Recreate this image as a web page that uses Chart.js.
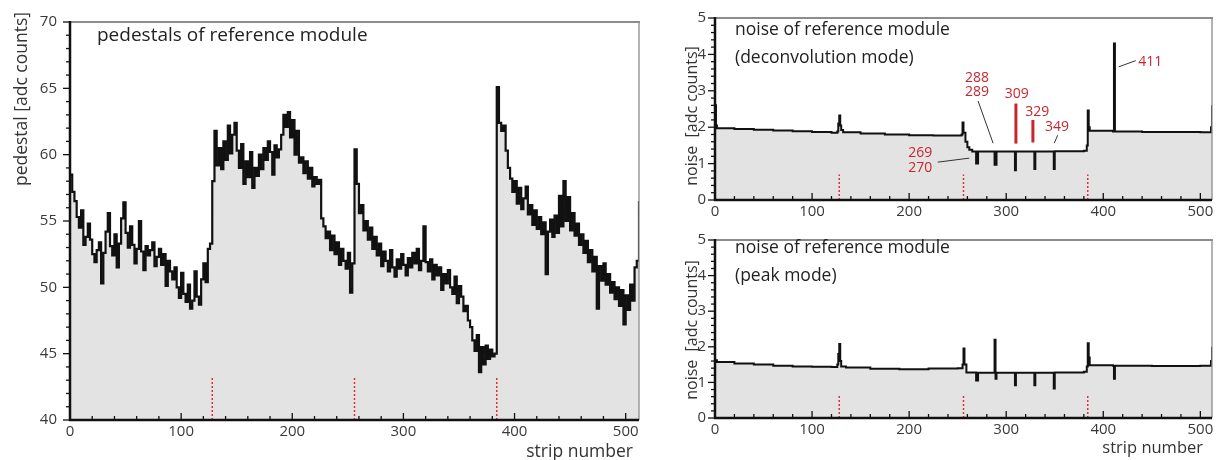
<!DOCTYPE html>
<html>
<head>
<meta charset="utf-8">
<script src="https://cdn.jsdelivr.net/npm/chart.js@4.4.1/dist/chart.umd.min.js"></script>
<style>
body{margin:0;background:#fff;width:1218px;height:460px;overflow:hidden;position:relative}
canvas{position:absolute}
</style>
</head>
<body>
<canvas id="pedChart" width="650" height="460" style="left:0;top:0"></canvas>
<canvas id="decoChart" width="538" height="222" style="left:680px;top:0"></canvas>
<canvas id="peakChart" width="538" height="238" style="left:680px;top:222px"></canvas>
<script>
// ==============================
// pedestals + noise of reference module
// ==============================

// pedestal per strip pair (strip 0,2,4 ... 510) + right edge at 512
const pedValues = [
58.5,57.2,56.5,55.3,54.5,55.8,
53.2,53.8,54.8,53.6,52.5,51.9,52.8,53.4,50.3,52.6,
54.2,55.6,53.1,52.4,54.0,51.5,53.3,55.2,56.4,54.1,
53.0,54.6,53.2,51.8,52.9,55.0,52.7,51.3,53.1,52.4,
52.8,53.4,51.6,52.3,52.9,51.7,52.5,50.1,52.0,51.2,
50.6,51.5,50.0,49.2,51.1,49.5,48.9,50.2,48.4,49.0,
51.2,49.3,48.7,50.6,51.8,50.4,52.9,53.3,
58.0,61.8,59.2,60.5,58.9,61.0,59.6,62.2,60.1,61.5,
62.4,60.3,59.0,60.8,57.8,59.5,58.3,60.2,57.5,59.0,
58.4,60.0,58.9,60.5,59.6,61.0,60.2,58.5,60.7,59.8,
60.4,61.5,63.0,62.1,63.2,61.3,62.6,60.0,61.8,59.4,
59.8,58.6,59.5,58.2,59.0,57.6,58.3,57.8,58.1,55.2,
54.6,53.7,54.2,52.8,53.9,52.5,53.4,51.7,52.9,52.0,
51.4,52.6,49.6,51.8,
60.4,57.8,55.6,56.2,54.3,55.0,53.6,54.5,52.9,53.8,
52.4,53.3,51.6,52.7,52.0,51.2,52.8,51.5,50.8,52.1,
51.4,52.5,51.7,50.9,52.2,51.5,52.6,51.8,52.9,51.3,
52.0,54.6,51.9,51.2,52.1,50.6,51.7,50.9,51.5,49.8,
51.0,50.3,51.3,50.0,49.5,50.8,48.8,50.1,49.3,48.2,
48.6,47.5,47.0,46.0,45.2,46.4,43.6,45.5,44.2,45.6,
44.6,45.3,44.8,45.0,
65.1,62.4,61.8,62.2,60.3,59.0,58.2,57.2,58.0,56.3,
57.5,55.9,56.7,57.6,55.5,56.2,54.7,55.8,54.4,55.3,
54.0,54.9,51.0,54.2,55.1,53.8,55.4,54.1,56.9,54.6,
58.0,55.0,56.8,54.3,55.6,53.9,54.8,53.2,54.0,52.6,
53.5,51.9,52.8,51.2,52.3,48.4,51.6,50.5,51.8,50.2,
51.0,49.6,50.4,49.1,50.0,48.6,49.8,47.2,49.4,48.3,
50.2,49.0,51.5,52.0,
56.5
]
const pedStrips = pedValues.map((v,i)=>i*2)

// noise, deconvolution mode
const decoStrips = [0,1,2,20,40,60,80,100,120,126,127,128,129,130,132,150,175,200,225,250,254,255,256,258,260,262,265,269,271,288,290,309,310,329,330,349,350,380,383,384,385,386,410,411,412,440,470,500,511,512]
const decoNoise  = [2.6,2.05,1.97,1.95,1.93,1.91,1.89,1.87,1.85,1.88,2.1,2.32,2.05,1.92,1.86,1.83,1.80,1.78,1.77,1.77,1.8,2.13,1.85,1.6,1.45,1.38,1.33,1.0,1.33,0.97,1.33,0.82,1.33,0.85,1.33,0.85,1.34,1.35,1.5,2.46,2.0,1.9,1.88,4.3,1.88,1.87,1.87,1.86,2.0,2.6]

// noise, peak mode
const peakStrips = [0,2,20,40,60,80,100,120,126,127,128,129,130,135,160,190,220,250,255,256,257,259,269,271,288,289,290,309,310,329,330,349,350,380,383,384,385,386,410,411,412,450,500,511,512]
const peakNoise  = [1.62,1.57,1.53,1.5,1.47,1.45,1.44,1.43,1.5,1.8,2.08,1.6,1.45,1.42,1.38,1.37,1.39,1.40,1.5,1.95,1.5,1.28,1.05,1.27,2.2,1.1,1.27,0.92,1.27,0.92,1.27,0.83,1.28,1.3,1.45,2.1,1.7,1.48,1.47,1.1,1.47,1.46,1.47,1.6,2.0]

// axis ticks
const stripTicks = [0,100,200,300,400,500]
const pedTicks = [40,45,50,55,60,65,70]
const noiseTicks = [0,1,2,3,4,5]

// chip boundaries (red dotted)
const chipEdges = [128,256,384]

const FONT = '"Open Sans", sans-serif'
const RED = "#c8262c"


function line(ctx,x1,y1,x2,y2){
ctx.beginPath()
ctx.moveTo(x1,y1)
ctx.lineTo(x2,y2)
ctx.stroke()
}


// frame, minor ticks, texts, markers

const decor = {

id:"decor",

afterDatasetsDraw(chart,args,o){

const ctx = chart.ctx
const a = chart.chartArea
const xs = chart.scales.x
const ys = chart.scales.y

ctx.save()

// top + right border
ctx.strokeStyle="#8c8c8c"
ctx.lineWidth=2
line(ctx,a.left,a.top,a.right+1,a.top)
ctx.lineWidth=1.3
line(ctx,a.right,a.top,a.right,a.bottom)

// chip boundaries
ctx.strokeStyle="#e0303a"
ctx.lineWidth=1.5
ctx.setLineDash([2,2])
chipEdges.forEach(s=>{
const x = xs.getPixelForValue(s)
line(ctx,x,a.bottom,x,ys.getPixelForValue(o.yMin+o.markH))
})
ctx.setLineDash([])

// axes
ctx.strokeStyle="#111"
ctx.lineWidth=2.5
line(ctx,a.left,a.top-1,a.left,a.bottom+1)
line(ctx,a.left-1,a.bottom,a.right,a.bottom)

// y ticks
ctx.lineWidth=1.3
const nY = Math.round((o.yMax-o.yMin)/o.yMinor)
for(let i=0;i<=nY;i++){
const v = o.yMin+i*o.yMinor
const y = ys.getPixelForValue(v)
const major = i % o.yEvery === 0
line(ctx,a.left-(major?7:4),y,a.left,y)
}

// x ticks (inside)
for(let s=0;s<=500;s+=20){
const x = xs.getPixelForValue(s)
line(ctx,x,a.bottom,x,a.bottom-(s%100===0?7:4))
}

// title text
ctx.fillStyle="#222"
ctx.textBaseline="top"
ctx.textAlign="left"
ctx.font=o.titleSize+"px "+FONT
o.title.forEach((t,i)=>{
ctx.fillText(t,a.left+o.titleX,o.titleY+i*28)
})

// y title
ctx.save()
ctx.translate(o.yTitleX,o.yTitleY)
ctx.rotate(-Math.PI/2)
ctx.textAlign="center"
ctx.textBaseline="middle"
ctx.font=o.yTitleSize+"px "+FONT
ctx.fillStyle="#333"
ctx.fillText(o.yTitle,0,0)
ctx.restore()

// x title
if(o.xTitle){
ctx.textAlign="right"
ctx.textBaseline="middle"
ctx.font=o.xTitleSize+"px "+FONT
ctx.fillStyle="#333"
ctx.fillText(o.xTitle,a.right-o.xTitleDx,o.xTitleY)
}

if(o.notes) o.notes(ctx,xs,ys)

ctx.restore()

}

}


// red notes for the dead / noisy strips

function decoNotes(ctx,xs,ys){

const X = s=>xs.getPixelForValue(s)
const Y = v=>ys.getPixelForValue(v)

ctx.fillStyle=RED
ctx.font="14px "+FONT
ctx.textAlign="left"
ctx.textBaseline="middle"

ctx.fillText("269",X(199),Y(1.28))
ctx.fillText("270",X(199),Y(0.88))
ctx.fillText("288",X(257.5),Y(3.36))
ctx.fillText("289",X(257.5),Y(2.98))
ctx.fillText("309",X(298.5),Y(2.9))
ctx.fillText("329",X(319.5),Y(2.43))
ctx.fillText("349",X(340),Y(2.0))
ctx.fillText("411",X(436),Y(3.8))

ctx.strokeStyle="#333"
ctx.lineWidth=1
line(ctx,X(229.5),Y(1.04),X(262),Y(1.15))
line(ctx,X(271),Y(2.72),X(286.5),Y(1.56))
line(ctx,X(353),Y(1.78),X(349.5),Y(1.56))
line(ctx,X(416),Y(3.66),X(433.5),Y(3.83))

ctx.strokeStyle=RED
ctx.lineWidth=3
line(ctx,X(310),Y(2.65),X(310),Y(1.55))
line(ctx,X(327.5),Y(2.2),X(327.5),Y(1.58))

}


function makeChart(id,strips,values,cfg){

const ctx = document.getElementById(id)

return new Chart(ctx,{

type:"line",

data:{
datasets:[{
data:strips.map((s,i)=>({x:s,y:values[i]})),
stepped:"before",
borderColor:"#111",
borderWidth:cfg.lineW,
backgroundColor:"#e3e3e3",
fill:"start",
pointRadius:0,
tension:0
}]
},

plugins:[decor],

options:{
responsive:false,
animation:false,
events:[],
layout:{padding:cfg.padding},
plugins:{
legend:{display:false},
tooltip:{enabled:false},
decor:cfg.decor
},
scales:{
x:{
type:"linear",
min:0,
max:512,
afterBuildTicks(s){ s.ticks = stripTicks.map(v=>({value:v})) },
afterFit(s){ s.height = cfg.xH },
grid:{display:false,drawTicks:false},
border:{display:false},
ticks:{font:{family:FONT,size:15},color:"#3a3a3a",padding:cfg.xPad,maxRotation:0}
},
y:{
min:cfg.yTicks[0],
max:cfg.yTicks[cfg.yTicks.length-1],
afterBuildTicks(s){ s.ticks = cfg.yTicks.map(v=>({value:v})) },
afterFit(s){ s.width = cfg.yW },
grid:{display:false,drawTicks:false},
border:{display:false},
ticks:{font:{family:FONT,size:15},color:"#3a3a3a",padding:cfg.yPad}
}
}
}

})

}


// Init

makeChart("pedChart",pedStrips,pedValues,{
lineW:2.2,
padding:{top:16,right:11,left:0,bottom:0},
xH:40, yW:70, xPad:3, yPad:13,
yTicks:pedTicks,
decor:{
yMin:40,yMax:70,yMinor:1,yEvery:5,markH:3.2,
title:["pedestals of reference module"],titleX:27,titleY:26,titleSize:19,
yTitle:"pedestal [adc counts]",yTitleX:22,yTitleY:99,yTitleSize:17.5,
xTitle:"strip number",xTitleY:452,xTitleSize:17.5,xTitleDx:6
}
})

makeChart("decoChart",decoStrips,decoNoise,{
lineW:2,
padding:{top:17,right:6,left:0,bottom:0},
xH:22, yW:35, xPad:3, yPad:9,
yTicks:noiseTicks,
decor:{
yMin:0,yMax:5,yMinor:0.2,yEvery:5,markH:0.7,
title:["noise of reference module","(deconvolution mode)"],titleX:20,titleY:21,titleSize:17.5,
yTitle:"noise  [adc counts]",yTitleX:12,yTitleY:116,yTitleSize:16,
notes:decoNotes
}
})

makeChart("peakChart",peakStrips,peakNoise,{
lineW:2,
padding:{top:5,right:6,left:0,bottom:0},
xH:42, yW:35, xPad:3, yPad:9,
yTicks:noiseTicks,
decor:{
yMin:0,yMax:5,yMinor:0.2,yEvery:5,markH:0.65,
title:["noise of reference module","(peak mode)"],titleX:20,titleY:17,titleSize:17.5,
yTitle:"noise  [adc counts]",yTitleX:12,yTitleY:108,yTitleSize:16,
xTitle:"strip number",xTitleY:226,xTitleSize:16.5,xTitleDx:9
}
})
</script>
</body>
</html>
